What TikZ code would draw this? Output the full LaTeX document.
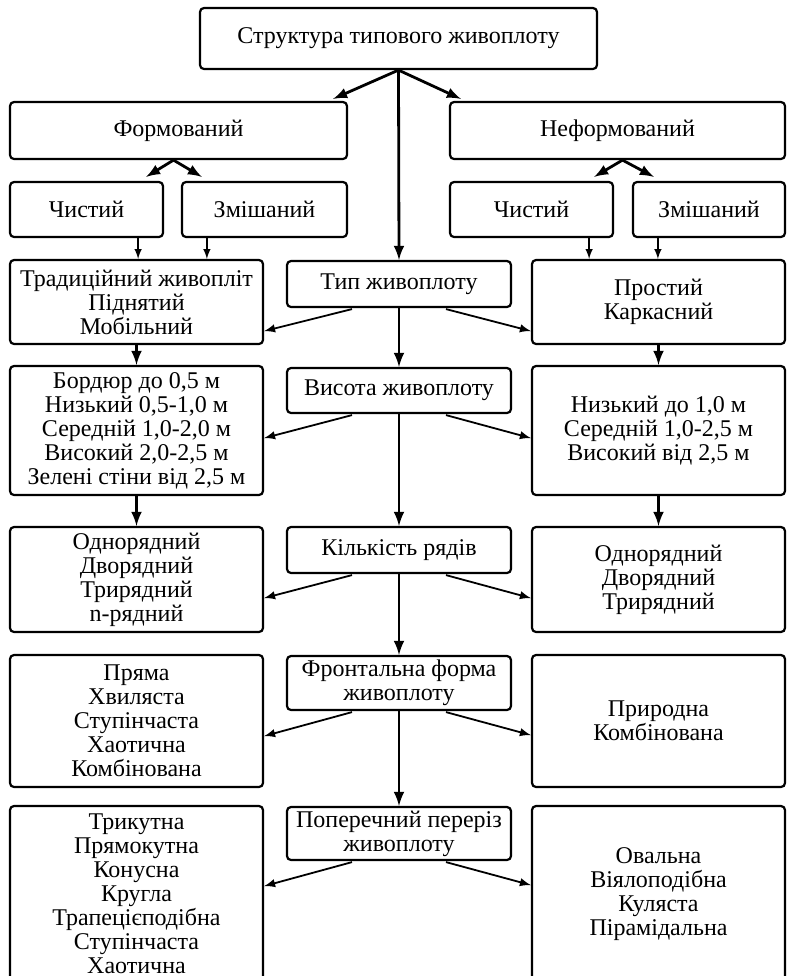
\documentclass[tikz,border=0pt]{standalone}
\usepackage{fontspec}
\setmainfont{Liberation Serif}
\usetikzlibrary{arrows, calc, positioning}

\begin{document}
\begin{tikzpicture}
[x=0.5pt, y=-0.5pt,
block_normal/.style ={rectangle, draw, line width=1.1pt, fill=white, align=center, rounded corners=2pt, inner sep=1pt, font=\fontsize{12}{12}\selectfont},
block_top/.style ={block_normal, minimum width=198.5pt, minimum height=30.5pt},
block_group/.style ={block_normal, minimum height=28.5pt},
block_kind/.style ={block_normal, minimum height=27.5pt},
block_side/.style ={block_normal, minimum width=126.5pt},
block_mid/.style ={block_normal, minimum width=112pt},
line_inner/.style ={draw, -latex, line width=1.4pt},
line_small/.style ={draw, -latex, line width=0.7pt},
line_side/.style ={draw, -latex, line width=0.9pt}]

\useasboundingbox (0,0) rectangle (787,976);
\clip (0,0) rectangle (787,976);

% top
\node[block_top] (title) at (398.5,38.5) {Структура типового живоплоту};
\node[block_group, minimum width=168.5pt] (form_l) at (178.5,130.5) {Формований};
\node[block_group, minimum width=167.5pt] (form_r) at (617.5,130.5) {Неформований};
\node[block_kind, minimum width=76.5pt] (pure_l) at (86.5,209.5) {Чистий};
\node[block_kind, minimum width=82.5pt] (mixed_l) at (264.5,209.5) {Змішаний};
\node[block_kind, minimum width=81.5pt] (pure_r) at (531.5,209.5) {Чистий};
\node[block_kind, minimum width=76pt] (mixed_r) at (709,209.5) {Змішаний};

% row 1
\node[block_side, minimum height=42pt] (trad) at (136.5,302) {Традиційний живопліт\\Піднятий\\Мобільний};
\node[block_mid, minimum height=23pt] (type) at (399,284) {Тип живоплоту};
\node[block_side, minimum height=42pt] (frame) at (658.5,302) {Простий\\Каркасний};
% row 2
\node[block_side, minimum height=64.5pt] (height_l) at (136.5,430.5) {Бордюр до 0,5 м\\Низький 0,5-1,0 м\\Середній 1,0-2,0 м\\Високий 2,0-2,5 м\\Зелені стіни від 2,5 м};
\node[block_mid, minimum height=22.5pt] (height) at (399,390.5) {Висота живоплоту};
\node[block_side, minimum height=64.5pt] (height_r) at (658.5,430.5) {Низький до 1,0 м\\Середній 1,0-2,5 м\\Високий від 2,5 м};
% row 3
\node[block_side, minimum height=52.5pt] (rows_l) at (136.5,579.5) {Однорядний\\Дворядний\\Трирядний\\n-рядний};
\node[block_mid, minimum height=23pt] (rows) at (399,550) {Кількість рядів};
\node[block_side, minimum height=52.5pt] (rows_r) at (658.5,579.5) {Однорядний\\Дворядний\\Трирядний};
% row 4
\node[block_side, minimum height=66pt] (front_l) at (136.5,721) {Пряма\\Хвиляста\\Ступінчаста\\Хаотична\\Комбінована};
\node[block_mid, minimum height=27pt] (front) at (399,683) {Фронтальна форма\\живоплоту};
\node[block_side, minimum height=66pt] (front_r) at (658.5,721) {Природна\\Комбінована};
% row 5
\node[block_side, minimum height=88pt] (cut_l) at (136.5,894) {Трикутна\\Прямокутна\\Конусна\\Кругла\\Трапецієподібна\\Ступінчаста\\Хаотична};
\node[block_mid, minimum height=26.5pt] (cut) at (399,833.5) {Поперечний переріз\\живоплоту};
\node[block_side, minimum height=88pt] (cut_r) at (658.5,894) {Овальна\\Віялоподібна\\Куляста\\Пірамідальна};

%%Pfeile%%%
\draw[line_inner] (title.south) -- ($(form_l.north east)+(-15,-2)$);
\draw[line_inner] (title.south) -- ($(form_r.north west)+(12,-2)$);
\draw[line_inner] (title.south) -- (type.north);
\draw[line_inner] ($(form_l.south)+(-5,0)$) -- ($(pure_l.north east)+(-18,-4)$);
\draw[line_inner] ($(form_l.south)+(-5,0)$) -- ($(mixed_l.north west)+(21,-4)$);
\draw[line_inner] ($(form_r.south)+(5,0)$) -- ($(pure_r.north east)+(-20,-4)$);
\draw[line_inner] ($(form_r.south)+(5,0)$) -- ($(mixed_r.north west)+(22,-4)$);

\draw[line_small] ($(pure_l.south east)+(-26,0)$) coordinate (p1) -- (p1 |- trad.north);
\draw[line_small] ($(mixed_l.south west)+(26,0)$) coordinate (p2) -- (p2 |- trad.north);
\draw[line_small] ($(pure_r.south east)+(-25,0)$) coordinate (p3) -- (p3 |- frame.north);
\draw[line_small] ($(mixed_r.south west)+(26,0)$) coordinate (p4) -- (p4 |- frame.north);

\draw[line_inner] (trad.south) -- (height_l.north);
\draw[line_inner] (height_l.south) -- (rows_l.north);
\draw[line_inner] (frame.south) -- (height_r.north);
\draw[line_inner] (height_r.south) -- (rows_r.north);

\draw[line_inner] (type.south) -- (height.north);
\draw[line_inner] (height.south) -- (rows.north);
\draw[line_inner] (rows.south) -- (front.north);
\draw[line_inner] (front.south) -- (cut.north);

\draw[line_side] ($(type.south)+(-47,1)$) -- ($(trad.east |- type.south)+(0,23)$);
\draw[line_side] ($(type.south)+(47,1)$) -- ($(frame.west |- type.south)+(0,23)$);
\draw[line_side] ($(height.south)+(-47,1)$) -- ($(height_l.east |- height.south)+(0,24)$);
\draw[line_side] ($(height.south)+(47,1)$) -- ($(height_r.west |- height.south)+(0,24)$);
\draw[line_side] ($(rows.south)+(-47,1)$) -- ($(rows_l.east |- rows.south)+(0,24)$);
\draw[line_side] ($(rows.south)+(47,1)$) -- ($(rows_r.west |- rows.south)+(0,24)$);
\draw[line_side] ($(front.south)+(-47,1)$) -- ($(front_l.east |- front.south)+(0,25)$);
\draw[line_side] ($(front.south)+(47,1)$) -- ($(front_r.west |- front.south)+(0,24)$);
\draw[line_side] ($(cut.south)+(-47,1)$) -- ($(cut_l.east |- cut.south)+(0,25)$);
\draw[line_side] ($(cut.south)+(47,1)$) -- ($(cut_r.west |- cut.south)+(0,24)$);

\end{tikzpicture}
\end{document}
